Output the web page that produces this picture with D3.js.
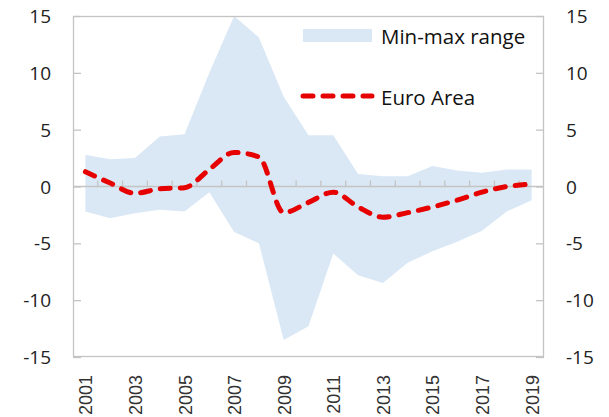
<!DOCTYPE html>
<html>
<head>
<meta charset="utf-8">
<script src="https://cdn.jsdelivr.net/npm/d3@7"></script>
<style>
  body { margin: 0; background: #fff; }
  svg { display: block; }
  .ylab { font-family: "Open Sans", sans-serif; font-size: 19px; fill: #222; }
  .xlab { font-family: "Liberation Sans", Arial, sans-serif; font-size: 18px; fill: #333; }
  .leg { font-family: "Open Sans", sans-serif; font-size: 20.5px; fill: #111; }
</style>
</head>
<body>
<div id="chart"></div>
<script>
const years = d3.range(2001, 2020)
const euroArea = [1.3, 0.3, -0.6, -0.2, -0.1, 1.5, 3.0, 2.6, -2.3, -1.4, -0.5, -1.8, -2.7, -2.3, -1.8, -1.2, -0.5, 0.0, 0.2]
const rangeMax = [2.8, 2.4, 2.5, 4.4, 4.6, 10.0, 15.0, 13.1, 7.9, 4.5, 4.5, 1.1, 0.9, 0.9, 1.8, 1.4, 1.2, 1.5, 1.5]
const rangeMin = [-2.2, -2.8, -2.35, -2.05, -2.2, -0.5, -4.0, -5.0, -13.5, -12.3, -5.9, -7.8, -8.5, -6.7, -5.7, -4.85, -3.9, -2.2, -1.2]
const yTicks = [-15, -10, -5, 0, 5, 10, 15]
const xLabels = [2001, 2003, 2005, 2007, 2009, 2011, 2013, 2015, 2017, 2019]

const W = 609, H = 417
const dim = { left: 73, right: 544, top: 16, bottom: 357 }
const frameColor = "#c4c4c4", fillColor = "#dae8f5", red = "#e60000"

const svg = d3.select("#chart").append("svg").attr("width", W).attr("height", H)

const x = d3.scaleBand().domain(years).range([dim.left, dim.right]).padding(0)
const y = d3.scaleLinear().domain([-15, 15]).range([dim.bottom, dim.top])
const cx = d => x(d) + x.bandwidth() / 2

const data = years.map((yr, i) => ({ yr, v: euroArea[i], lo: rangeMin[i], hi: rangeMax[i] }))

// min-max band
const area = d3.area().x(d => cx(d.yr)).y0(d => y(d.lo)).y1(d => y(d.hi))
svg.append("path").attr("d", area(data)).attr("fill", fillColor)

// frame
svg.append("rect")
  .attr("x", dim.left + 0.5).attr("y", dim.top + 0.5)
  .attr("width", dim.right - dim.left - 1).attr("height", dim.bottom - dim.top - 1)
  .attr("fill", "none").attr("stroke", frameColor).attr("stroke-width", 1.3)

// zero line with category ticks
const zeroG = svg.append("g").attr("transform", "translate(0," + y(0) + ")")
zeroG.append("line").attr("x1", dim.left).attr("x2", dim.right)
  .attr("stroke", frameColor).attr("stroke-width", 1.5)
years.slice(1).forEach(yr => {
  zeroG.append("line").attr("x1", x(yr)).attr("x2", x(yr)).attr("y1", 0).attr("y2", -6)
    .attr("stroke", frameColor).attr("stroke-width", 1.3)
})

// y axes (ticks inward)
svg.append("g").attr("transform", "translate(" + dim.left + ",0)")
  .call(d3.axisRight(y).tickValues(yTicks).tickSize(8).tickFormat(""))
svg.append("g").attr("transform", "translate(" + dim.right + ",0)")
  .call(d3.axisLeft(y).tickValues(yTicks).tickSize(8).tickFormat(""))
svg.selectAll(".domain").remove()
svg.selectAll(".tick line").attr("stroke", frameColor).attr("stroke-width", 1.3)

yTicks.forEach(t => {
  svg.append("text").attr("class", "ylab").attr("x", 51).attr("y", y(t))
    .attr("text-anchor", "end").attr("dominant-baseline", "central").text(t)
  svg.append("text").attr("class", "ylab").attr("x", 566).attr("y", y(t))
    .attr("text-anchor", "start").attr("dominant-baseline", "central").text(t)
})

// x labels, rotated
xLabels.forEach(yr => {
  svg.append("text").attr("class", "xlab")
    .attr("transform", "translate(" + (cx(yr) + 1) + ",375) rotate(-90)")
    .attr("text-anchor", "end").attr("dominant-baseline", "central").text(yr)
})

// euro area line
const line = d3.line().curve(d3.curveMonotoneX).x(d => cx(d.yr)).y(d => y(d.v))
svg.append("path").attr("d", line(data))
  .attr("fill", "none").attr("stroke", red).attr("stroke-width", 5)
  .attr("stroke-dasharray", "10,10").attr("stroke-linecap", "round")

// legend
const leg = svg.append("g")
leg.append("rect").attr("x", 303).attr("y", 29).attr("width", 69).attr("height", 13).attr("fill", fillColor)
leg.append("text").attr("class", "leg").attr("x", 381).attr("y", 35.5).attr("dominant-baseline", "central").text("Min-max range")
leg.append("line").attr("x1", 303).attr("x2", 372).attr("y1", 96).attr("y2", 96)
  .attr("stroke", red).attr("stroke-width", 5).attr("stroke-dasharray", "10,10").attr("stroke-linecap", "round")
leg.append("text").attr("class", "leg").attr("x", 381).attr("y", 97).attr("dominant-baseline", "central").text("Euro Area")
</script>
</body>
</html>
